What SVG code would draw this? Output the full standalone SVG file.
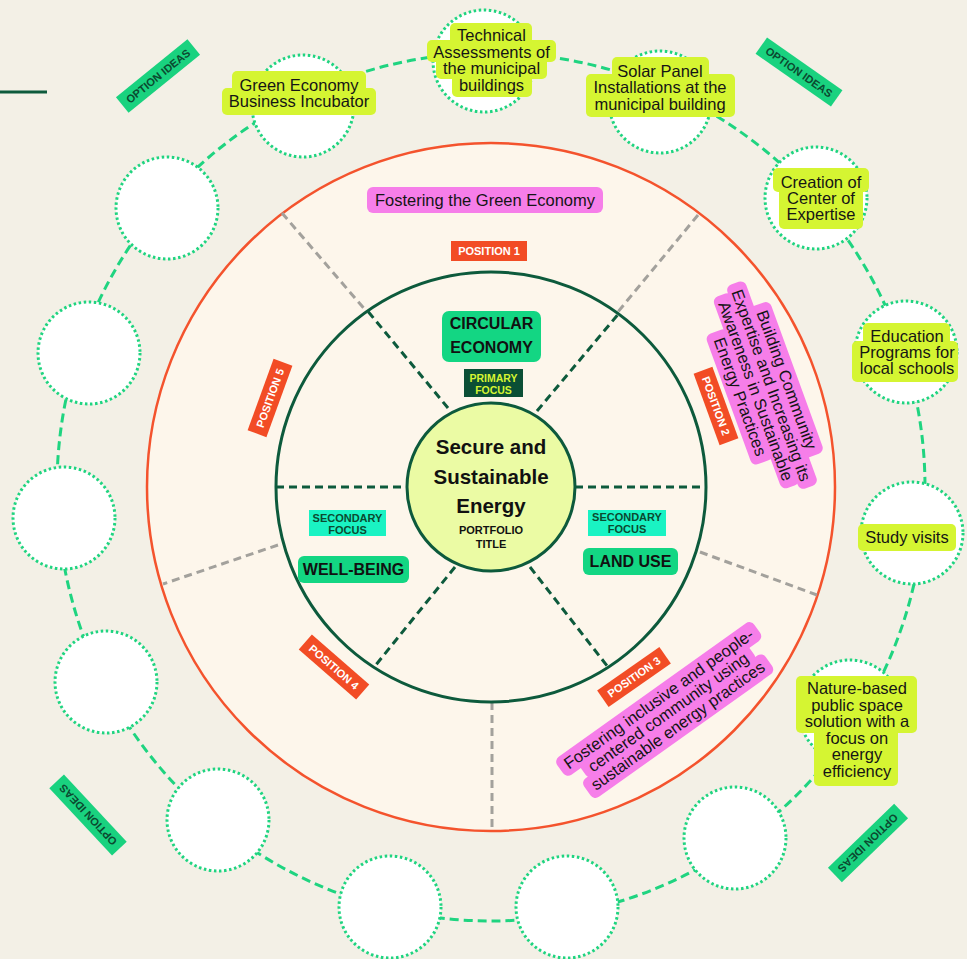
<svg xmlns="http://www.w3.org/2000/svg" width="967" height="959" viewBox="0 0 967 959">
<style>
.t{font-family:'Liberation Sans',Arial,sans-serif;font-size:16.5px;fill:#151515;text-anchor:middle}
.b{font-family:'Liberation Sans',Arial,sans-serif;font-weight:bold;text-anchor:middle}
.lime{fill:#d5f532}
.pink{fill:#f67ee9}
.dot{fill:#fff;stroke:#1fd480;stroke-width:3;stroke-dasharray:2.5 2.6}
.pos rect{fill:#f24c25}
.pos text{font-family:'Liberation Sans',Arial,sans-serif;font-weight:bold;font-size:11px;fill:#fff;text-anchor:middle}
.opt rect{fill:#19d27f}
.opt text{font-family:'Liberation Sans',Arial,sans-serif;font-weight:bold;font-size:11px;fill:#0b4a30;text-anchor:middle}
.spoke{stroke:#0d5a3c;stroke-width:3;stroke-dasharray:8 5;fill:none}
.gray{stroke:#a3a19c;stroke-width:3;stroke-dasharray:8 5;fill:none}
.gbox{fill:#13d683}
</style>
<rect width="967" height="959" fill="#f3f0e6"/>
<line x1="0" y1="92" x2="47" y2="92" stroke="#0d5a3c" stroke-width="3"/>

<g id="connectors">
<circle cx="491" cy="487" r="434" fill="none" stroke="#1fd480" stroke-width="3" stroke-dasharray="9 5"/>
</g>

<g id="outer-ring">
<circle cx="491" cy="487" r="344" fill="#fdf6eb" stroke="#f4532d" stroke-width="2.5"/>
<line class="gray" x1="282" y1="213" x2="367" y2="312"/>
<line class="gray" x1="698" y1="215" x2="617" y2="313"/>
<line class="gray" x1="700" y1="552" x2="817" y2="595"/>
<line class="gray" x1="278" y1="545" x2="163" y2="584"/>
<line class="gray" x1="492" y1="702" x2="492" y2="830"/>
</g>

<g id="inner-ring">
<circle cx="491" cy="487" r="215" fill="#fdf6eb" stroke="#0d5a3c" stroke-width="3"/>
<line class="spoke" x1="448" y1="408" x2="366" y2="309"/>
<line class="spoke" x1="537" y1="411" x2="620" y2="312"/>
<line class="spoke" x1="276" y1="487" x2="407" y2="487"/>
<line class="spoke" x1="575" y1="487" x2="706" y2="487"/>
<line class="spoke" x1="455" y1="567" x2="375" y2="666"/>
<line class="spoke" x1="530" y1="567" x2="608" y2="667"/>
</g>

<g id="center">
<circle cx="491" cy="487" r="84" fill="#ebfba4" stroke="#0d5a3c" stroke-width="3"/>
<text class="b" font-size="20.5" x="491" y="454" fill="#111">Secure and</text>
<text class="b" font-size="20.5" x="491" y="484" fill="#111">Sustainable</text>
<text class="b" font-size="20.5" x="491" y="513" fill="#111">Energy</text>
<text class="b" font-size="11" x="491" y="534" fill="#111">PORTFOLIO</text>
<text class="b" font-size="11" x="491" y="548" fill="#111">TITLE</text>
</g>

<g id="circular-economy">
<rect class="gbox" x="442" y="311" width="99" height="51" rx="7"/>
<text class="b" font-size="16" x="491.5" y="329" fill="#111">CIRCULAR</text>
<text class="b" font-size="16" x="491.5" y="353" fill="#111">ECONOMY</text>
<rect x="464" y="369" width="59" height="28" fill="#0b4f35"/>
<text class="b" font-size="10.5" x="493.5" y="382" fill="#d5f532">PRIMARY</text>
<text class="b" font-size="10.5" x="493.5" y="393.5" fill="#d5f532">FOCUS</text>
</g>

<g id="land-use">
<rect x="588" y="510" width="78" height="26" fill="#1af3c3"/>
<text class="b" font-size="11" x="627" y="521" fill="#0b4a30">SECONDARY</text>
<text class="b" font-size="11" x="627" y="532.5" fill="#0b4a30">FOCUS</text>
<rect class="gbox" x="583" y="548" width="95" height="27" rx="6"/>
<text class="b" font-size="16" x="630.5" y="567" fill="#111">LAND USE</text>
</g>

<g id="well-being">
<rect x="309" y="510" width="77" height="26" fill="#1af3c3"/>
<text class="b" font-size="11" x="347.5" y="522" fill="#0b4a30">SECONDARY</text>
<text class="b" font-size="11" x="347.5" y="533.5" fill="#0b4a30">FOCUS</text>
<rect class="gbox" x="298" y="556" width="111" height="27" rx="6"/>
<text class="b" font-size="16" x="353.5" y="575" fill="#111">WELL-BEING</text>
</g>

<g id="position-1" class="pos">
<rect x="451" y="241" width="76" height="20"/>
<text x="489" y="255">POSITION 1</text>
</g>
<g id="position-2" class="pos" transform="translate(716,406) rotate(70)">
<rect x="-38" y="-10" width="76" height="20"/>
<text x="0" y="4">POSITION 2</text>
</g>
<g id="position-3" class="pos" transform="translate(634,677) rotate(-35)">
<rect x="-38" y="-10" width="76" height="20"/>
<text x="0" y="4">POSITION 3</text>
</g>
<g id="position-4" class="pos" transform="translate(334,667) rotate(41)">
<rect x="-38" y="-10" width="76" height="20"/>
<text x="0" y="4">POSITION 4</text>
</g>
<g id="position-5" class="pos" transform="translate(270,398) rotate(-70)">
<rect x="-38" y="-10" width="76" height="20"/>
<text x="0" y="4">POSITION 5</text>
</g>

<g id="theme-green-economy">
<rect class="pink" x="367" y="187" width="236" height="26" rx="6"/>
<text class="t" x="485" y="206">Fostering the Green Economy</text>
</g>
<g id="theme-community-expertise" transform="translate(764,388) rotate(70)">
<rect class="pink" x="-80.5" y="-35" width="161" height="22" rx="6"/>
<rect class="pink" x="-108.5" y="-18.5" width="217" height="20" rx="6"/>
<rect class="pink" x="-102" y="-2" width="204" height="20" rx="6"/>
<rect class="pink" x="-69.5" y="14.5" width="139" height="23" rx="6"/>
<text class="t" x="0" y="-18.5">Building Community</text>
<text class="t" x="0" y="-2">Expertise and Increasing its</text>
<text class="t" x="0" y="14.5">Awareness in Sustainable</text>
<text class="t" x="0" y="31">Energy Practices</text>
</g>
<g id="theme-inclusive-community" transform="translate(668,712) rotate(-35.5)">
<rect class="pink" x="-121" y="-27" width="242" height="22" rx="6"/>
<rect class="pink" x="-103.5" y="-10.5" width="207" height="20" rx="6"/>
<rect class="pink" x="-111.5" y="6" width="223" height="23" rx="6"/>
<text class="t" x="0" y="-10.5">Fostering inclusive and people-</text>
<text class="t" x="0" y="6">centered community using</text>
<text class="t" x="0" y="22.5">sustainable energy practices</text>
</g>

<g id="option-ideas-tl" class="opt" transform="translate(158,76) rotate(-39)">
<rect x="-46" y="-10" width="92" height="20"/>
<text x="0" y="4">OPTION IDEAS</text>
</g>
<g id="option-ideas-tr" class="opt" transform="translate(799,72) rotate(35)">
<rect x="-46" y="-10" width="92" height="20"/>
<text x="0" y="4">OPTION IDEAS</text>
</g>
<g id="option-ideas-bl" class="opt" transform="translate(88,815) rotate(-133)">
<rect x="-46" y="-10" width="92" height="20"/>
<text x="0" y="4">OPTION IDEAS</text>
</g>
<g id="option-ideas-br" class="opt" transform="translate(868,843) rotate(136)">
<rect x="-46" y="-10" width="92" height="20"/>
<text x="0" y="4">OPTION IDEAS</text>
</g>

<g id="idea-green-economy-incubator">
<circle class="dot" cx="303" cy="106" r="51"/>
<rect class="lime" x="232" y="71" width="134" height="22" rx="5"/>
<rect class="lime" x="222" y="88" width="154" height="27" rx="5"/>
<text class="t" x="299" y="91">Green Economy</text>
<text class="t" x="299" y="107">Business Incubator</text>
</g>
<g id="idea-technical-assessments">
<circle class="dot" cx="484" cy="61" r="51"/>
<rect class="lime" x="450" y="23" width="82" height="24" rx="5"/>
<rect class="lime" x="427" y="40" width="129" height="22" rx="5"/>
<rect class="lime" x="436" y="57" width="111" height="22" rx="5"/>
<rect class="lime" x="452" y="73" width="80" height="24" rx="5"/>
<text class="t" x="491.5" y="41">Technical</text>
<text class="t" x="491.5" y="57.5">Assessments of</text>
<text class="t" x="491.5" y="74">the municipal</text>
<text class="t" x="491.5" y="90.5">buildings</text>
</g>
<g id="idea-solar-panels">
<circle class="dot" cx="660" cy="102" r="51"/>
<rect class="lime" x="612" y="57" width="97" height="24" rx="5"/>
<rect class="lime" x="586" y="74" width="149" height="43" rx="5"/>
<text class="t" x="660" y="77">Solar Panel</text>
<text class="t" x="660" y="93">Installations at the</text>
<text class="t" x="660" y="109.5">municipal building</text>
</g>
<g id="idea-center-of-expertise">
<circle class="dot" cx="816" cy="198" r="51"/>
<rect class="lime" x="773" y="168" width="96" height="24" rx="5"/>
<rect class="lime" x="779" y="186" width="84" height="43" rx="5"/>
<text class="t" x="821" y="188">Creation of</text>
<text class="t" x="821" y="204">Center of</text>
<text class="t" x="821" y="220">Expertise</text>
</g>
<g id="idea-education-programs">
<circle class="dot" cx="906" cy="352" r="51"/>
<rect class="lime" x="863" y="323" width="87" height="24" rx="5"/>
<rect class="lime" x="852" y="341" width="106" height="41" rx="5"/>
<text class="t" x="907" y="342">Education</text>
<text class="t" x="907" y="358">Programs for</text>
<text class="t" x="907" y="374">local schools</text>
</g>
<g id="idea-study-visits">
<circle class="dot" cx="912" cy="533" r="51"/>
<rect class="lime" x="858" y="524" width="98" height="27" rx="5"/>
<text class="t" x="907" y="543">Study visits</text>
</g>
<g id="idea-nature-based">
<circle class="dot" cx="850" cy="711" r="51"/>
<rect class="lime" x="796" y="676" width="121" height="57" rx="5"/>
<rect class="lime" x="814" y="728" width="84" height="58" rx="5"/>
<text class="t" x="857" y="694">Nature-based</text>
<text class="t" x="857" y="710.5">public space</text>
<text class="t" x="857" y="727">solution with a</text>
<text class="t" x="857" y="743.5">focus on</text>
<text class="t" x="857" y="760">energy</text>
<text class="t" x="857" y="776.5">efficiency</text>
</g>
<g id="idea-empty-1"><circle class="dot" cx="735" cy="838" r="51"/></g>
<g id="idea-empty-2"><circle class="dot" cx="567" cy="907" r="51"/></g>
<g id="idea-empty-3"><circle class="dot" cx="390" cy="907" r="51"/></g>
<g id="idea-empty-4"><circle class="dot" cx="218" cy="820" r="51"/></g>
<g id="idea-empty-5"><circle class="dot" cx="106" cy="682" r="51"/></g>
<g id="idea-empty-6"><circle class="dot" cx="64" cy="518" r="51"/></g>
<g id="idea-empty-7"><circle class="dot" cx="89" cy="353" r="51"/></g>
<g id="idea-empty-8"><circle class="dot" cx="167" cy="208" r="51"/></g>
</svg>
